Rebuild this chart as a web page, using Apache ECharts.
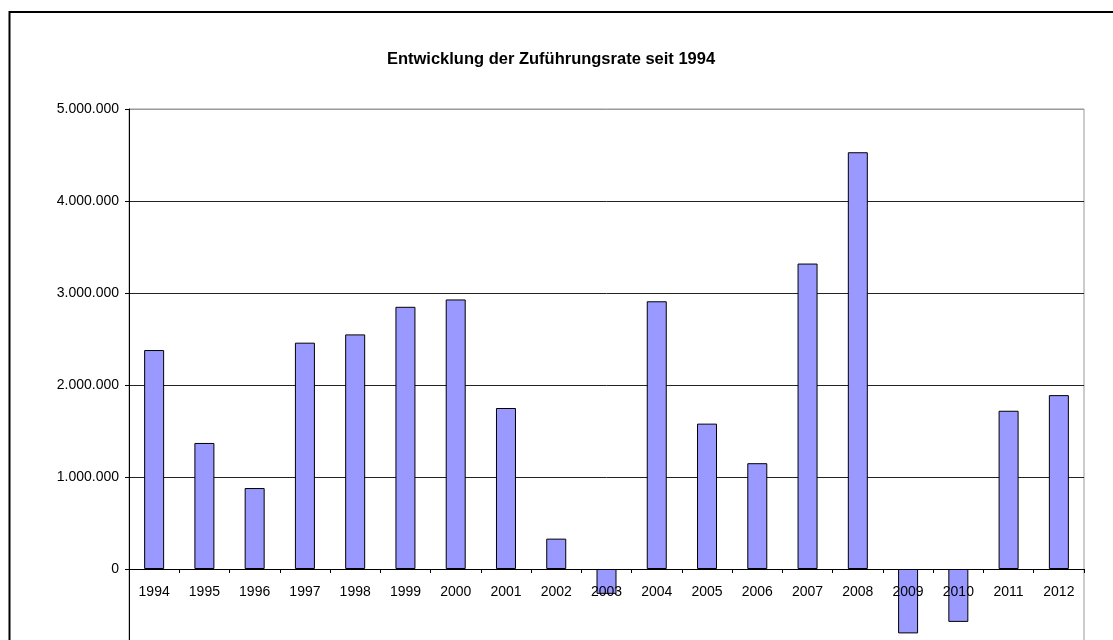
<!DOCTYPE html>
<html>
<head>
<meta charset="utf-8">
<script src="https://cdn.jsdelivr.net/npm/echarts@6/dist/echarts.min.js"></script>
<style>
html,body{margin:0;padding:0;background:#fff;overflow:hidden;}
#chart{width:1113px;height:700px;}
</style>
</head>
<body>
<div id="chart"></div>
<script>
const titleText = 'Entwicklung der Zuführungsrate seit 1994';
const years = ['1994','1995','1996','1997','1998','1999','2000','2001','2002','2003','2004','2005','2006','2007','2008','2009','2010','2011','2012'];
const values = [2380000,1370000,880000,2460000,2550000,2850000,2930000,1750000,330000,-270000,2910000,1580000,1150000,3320000,4530000,-700000,-575000,1720000,1890000];
const yMin = -1000000, yMax = 5000000, yStep = 1000000;

const fmt = v => {
  const s = String(Math.abs(v)).replace(/\B(?=(\d{3})+(?!\d))/g, '.');
  return (v < 0 ? '-' : '') + s;
};
const FONT = "'Liberation Sans', Arial, sans-serif";

const chart = echarts.init(document.getElementById('chart'), null, {renderer:'canvas'});
chart.setOption({
  animation: false,
  backgroundColor: '#fff',
  title: {
    text: titleText,
    left: 546, top: 46, textAlign: 'center',
    textStyle: {fontFamily: FONT, fontSize: 16.5, fontWeight: 'bold', color: '#000'}
  },
  graphic: [{
    type: 'polyline',
    shape: {points: [[9.5, 700], [9.5, 12], [1113, 12]]},
    style: {stroke: '#000', lineWidth: 2, fill: null},
    z: 100
  }],
  grid: {
    left: 129, top: 109, width: 955, height: 552,
    show: true, borderColor: '#999', borderWidth: 1, backgroundColor: 'transparent'
  },
  xAxis: {
    type: 'category',
    data: years,
    boundaryGap: true,
    offset: -92,
    z: 5,
    axisLine: {show: true, onZero: false, lineStyle: {color: '#000', width: 1}},
    axisTick: {show: true, alignWithLabel: false, length: 4, inside: false, lineStyle: {color: '#000'}},
    axisLabel: {fontFamily: FONT, fontSize: 14, color: '#000', margin: 16, interval: 0},
    splitLine: {show: false}
  },
  yAxis: {
    type: 'value',
    min: yMin, max: yMax, interval: yStep,
    axisLine: {show: true, lineStyle: {color: '#000', width: 1}},
    axisTick: {show: true, length: 4, lineStyle: {color: '#000'}},
    axisLabel: {fontFamily: FONT, fontSize: 14, color: '#000', margin: 10, formatter: fmt},
    splitLine: {show: true, lineStyle: {color: ['#222','#222','#222','#222','#222','#222','#999'], width: 1}}
  },
  series: [{
    type: 'bar',
    data: values,
    barWidth: 20,
    itemStyle: {color: '#9999ff', borderColor: '#000', borderWidth: 1}
  }]
});
</script>
</body>
</html>
